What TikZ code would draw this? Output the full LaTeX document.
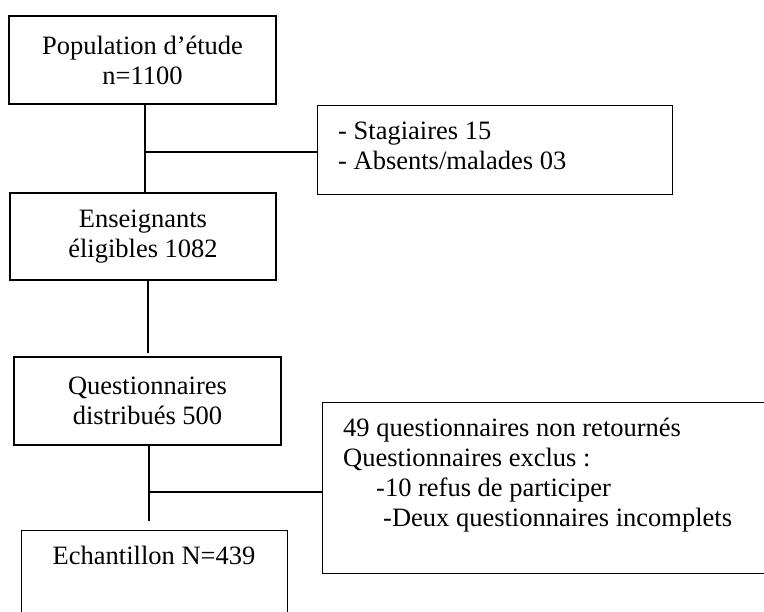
\documentclass[tikz,border=0pt]{standalone}
\usepackage{fontspec}
\setmainfont{Liberation Serif}
\usetikzlibrary{positioning}

\begin{document}
\begin{tikzpicture}[x=1pt,y=-1pt,
    box/.style={draw=black, line width=1.1pt, rectangle, inner sep=0pt, align=center,
        font=\fontsize{26.5}{30}\selectfont},
    txt/.style={anchor=base west, inner sep=0pt, font=\fontsize{26.5}{30}\selectfont},
    link/.style={line width=1.1pt}]
    \useasboundingbox (0,0) rectangle (764,612);
    \clip (0,0) rectangle (764,612);

    % main column
    \node[box, minimum width=267pt, minimum height=88pt] (pop) at (142.5,60)
        {Population d’étude\\n=1100};
    \node[box, minimum width=266pt, minimum height=87pt] (elig) at (143,236.5)
        {Enseignants\\éligibles 1082};
    \node[box, minimum width=267pt, minimum height=88pt] (dist) at (147.5,401)
        {Questionnaires\\distribués 500};
    \node[box, anchor=north west, minimum width=266pt, minimum height=120pt] (ech) at (21,530) {};
    \node[anchor=base, inner sep=0pt, font=\fontsize{26.5}{30}\selectfont] (echtxt) at (154,565)
        {Echantillon N=439};

    % exclusion boxes
    \node[box, anchor=north west, minimum width=355pt, minimum height=89pt] (stag) at (317,105) {};
    \node[txt] (stag1) at (338,140) {- Stagiaires 15};
    \node[txt] (stag2) at (338,170) {- Absents/malades 03};

    \node[box, anchor=north west, minimum width=460pt, minimum height=171pt] (nonret) at (322,402) {};
    \foreach \dx/\t [count=\i] in {0/49 questionnaires non retournés,
                                   0/Questionnaires exclus :,
                                   33/-10 refus de participer,
                                   40/-Deux questionnaires incomplets}
        \node[txt] (nr\i) at (343+\dx,437+30*\i-30) {\t};

    % connectors
    \coordinate (j1) at (145,152);
    \draw[link] (pop.south -| j1) -- (elig.north -| j1);
    \draw[link] (j1) -- (j1 -| stag.west);

    \coordinate (c2) at (148,353);
    \draw[link] (c2 |- elig.south) -- (c2);

    \coordinate (j2) at (149,492);
    \coordinate (c3) at (149,521);
    \draw[link] (c3 |- dist.south) -- (c3);
    \draw[link] (j2) -- (j2 -| nonret.west);

\end{tikzpicture}
\end{document}
